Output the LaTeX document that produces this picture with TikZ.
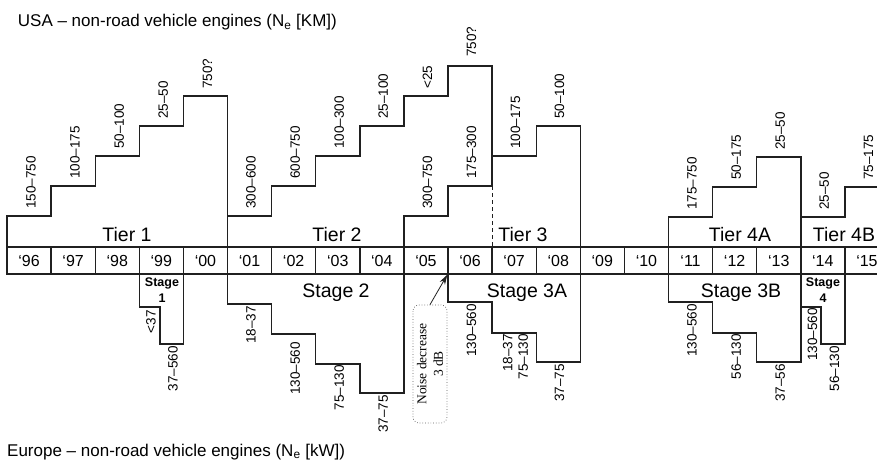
\documentclass[tikz,border=0pt]{standalone}
\usepackage{fontspec}
\setmainfont{Liberation Sans}
\newfontfamily\serifada{Liberation Serif}
\usepackage{tikz}
\usetikzlibrary{arrows.meta}
\definecolor{traco}{RGB}{32,32,32}
\definecolor{pontilhado}{RGB}{90,90,90}
\tikzset{
  ano/.style={rectangle,draw=traco,line width=1.4pt,minimum width=44.1pt,
    minimum height=27pt,inner sep=0pt,text height=11.6pt,text depth=0pt,
    font=\fontsize{16}{18}\selectfont},
  faixa/.style={rotate=90,anchor=west,inner sep=1pt,font=\fontsize{13.5}{15}\selectfont},
  faixab/.style={rotate=90,anchor=east,inner sep=1pt,align=right,
    font=\fontsize{13.5}{15.5}\selectfont},
  nivel/.style={anchor=base,inner sep=0pt,font=\fontsize{19.5}{22}\selectfont},
  degrau/.style={draw=traco,line width=1.4pt},
  seta/.style={-{Stealth[length=10pt,width=6pt]},line width=0.8pt,traco}
}

\begin{document}
\begin{tikzpicture}[x=1pt,y=-1pt,
  etapa/.style={anchor=north,align=center,inner sep=0pt,
    font=\bfseries\fontsize{12.5}{16}\selectfont},
  aviso/.style={rotate=90,draw=pontilhado,dotted,line width=0.7pt,rounded corners=6pt,
    minimum width=118pt,minimum height=34pt,align=center,
    font=\serifada\fontsize{13.5}{16.5}\selectfont}]
\useasboundingbox (0,0) rectangle (877,463);
\clip (0,0) rectangle (877,463);
\node[anchor=base west,inner sep=0pt,font=\fontsize{17}{20}\selectfont] (eua) at (17.7,27)
  {USA – non-road vehicle engines (N\textsubscript{e} [KM])};
\node[anchor=base west,inner sep=0pt,font=\fontsize{17}{20}\selectfont] (europa) at (7,456)
  {Europe – non-road vehicle engines (N\textsubscript{e} [kW])};
\foreach \a [count=\i from 0] in {96,97,98,99,00,01,02,03,04,05,06,07,08,09,10,11,12,13,14,15}
  \node[ano] (yr\a) at (29.05+44.1*\i,260.5) {‘\a};
\draw[degrau] (7,247) |- (51.1,216) |- (95.2,186) |- (139.3,156) |- (183.4,126)
  |- (227.5,96) -- (227.5,247);
\draw[degrau] (227.5,216) -- (271.6,216) |- (315.7,186) |- (359.8,156) |- (403.9,126)
  |- (448,96) |- (492.1,66) -- (492.1,186);
\draw[traco,line width=0.9pt,dash pattern=on 4pt off 3pt] (492.1,186) -- (492.1,247);
\draw[degrau] (403.9,247) |- (448,216) |- (492.1,186) |- (536.2,156) |- (580.3,126)
  -- (580.3,247);
\draw[degrau] (668.5,247) |- (712.6,217) |- (756.7,187) |- (800.8,157) -- (800.8,247);
\draw[degrau] (800.8,217) -- (844.9,217) |- (889,187);
\draw[degrau] (139.3,274) |- (160,307) |- (183.4,344) -- (183.4,274);
\draw[degrau] (227.5,274) |- (271.6,304) |- (315.7,334) |- (359.8,364) |- (403.9,393)
  -- (403.9,274);
\draw[degrau] (448,274) |- (492.1,302) |- (536.2,333) |- (580.3,362) -- (580.3,274);
\draw[degrau] (668.5,274) |- (712.6,302) |- (756.7,333) |- (800.8,362) -- (800.8,274);
\draw[degrau] (800.8,274) |- (821,307) |- (844.9,344) -- (844.9,274);
\foreach \px/\py/\t [count=\k] in {29.5/210/150--750, 73.6/180/100--175, 117.7/150/50--100,
  161.8/120/25--50, 205.9/90/750?, 249.5/210/300--600, 293.6/180/600--750,
  337.7/150/100--300, 381.8/120/25--100, 426/90/{<25}, 470/58/750?,
  426/210/300--750, 470/180/175--300, 514/150/100--175, 558/120/50--100,
  690.5/211/175--750, 734.6/181/50--175, 778.7/151/25--50,
  822.8/211/25--50, 867/181/75--175}
  \node[faixa] (sup\k) at (\px+1.5,\py) {\t};
\foreach \px/\py/\t [count=\k] in {149.6/309/{<37}, 171.6/345/37--560,
  249.5/305/18--37, 293.6/341/130--560, 337.7/364/75--130, 381.8/394/37--75,
  470/303/130--560, 514/333/{18--37\\75--130}, 558/363/37--75,
  690.5/303/130--560, 734.6/333/56--130, 778.7/363/37--56,
  811/307/130--560, 833/345/56--130}
  \node[faixab] (inf\k) at (\px+1.5,\py) {\t};
\node[nivel] (tier1) at (127,241) {Tier 1};
\node[nivel] (tier2) at (337,241) {Tier 2};
\node[nivel] (tier3) at (523,241) {Tier 3};
\node[nivel] (tier4a) at (740,241) {Tier 4A};
\node[nivel] (tier4b) at (844,241) {Tier 4B};
\node[nivel] (stage2) at (336,297) {Stage 2};
\node[nivel] (stage3a) at (527,297) {Stage 3A};
\node[nivel] (stage3b) at (741,297) {Stage 3B};
\node[etapa] (stage1) at (162,278) {Stage\\1};
\node[etapa] (stage4) at (823,278) {Stage\\4};
\node[aviso] (noise) at (430,364) {Noise decrease\\3 dB};
\draw[seta] (noise.east) -- (yr06.south west);
\end{tikzpicture}
\end{document}
